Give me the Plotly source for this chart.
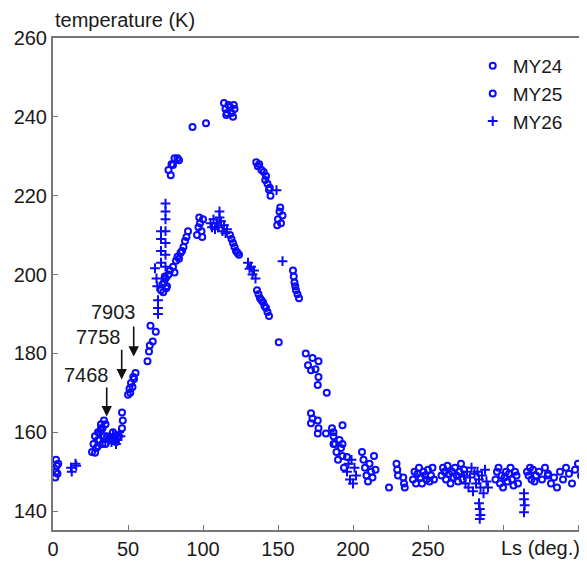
import plotly.graph_objects as go

# ---------------- data ----------------
my24_ls = [1.5, 2, 2.5, 3, 3.5, 2,
           26, 27, 28, 29, 30, 31, 32, 33, 34, 35, 28, 30, 32,
           50, 51, 52, 53, 54, 55, 51.5, 53.5,
           72, 73, 74, 75, 76, 77, 73.5, 75.5, 74.5,
           78, 80, 82, 83, 85, 86, 87, 88, 89, 90, 81, 84,
           96, 97, 98, 99, 100, 97.5, 99.5,
           93, 102,
           118, 119, 120, 121, 122, 123, 124,
           136, 137, 138, 139, 140, 141, 142, 143, 144,
           168.5, 173, 177, 177, 172, 176.5, 170, 175,
           186, 187, 188, 189, 190, 191, 192, 193, 194,
           206, 207, 208, 209, 210, 211, 212, 213, 214, 215,
           240, 241, 242, 243, 244, 245, 246, 247, 248, 249, 250, 251, 252, 253, 254,
           295, 296, 297, 298, 299, 300, 301, 302, 303, 304, 305, 306, 307, 308, 309, 310,
           330, 332, 334, 336, 338, 340, 342, 344, 346, 348, 350, 352, 354, 356]
my24_T = [148.5, 150, 151.5, 149.5, 152, 153,
          155, 157, 159, 156, 160, 158, 161, 157, 159, 162, 154.8, 156.5, 160.5,
          169.5, 171, 172.5, 171.5, 173.5, 175, 170, 174,
          196, 197.5, 198, 199, 197, 200, 195.5, 196.5, 199.5,
          201, 202, 203.5, 204.5, 205.5, 206, 207, 208.5, 209.5, 211, 200.5, 204,
          210, 212, 213, 211, 214, 214.5, 209.5,
          237.4, 238.4,
          210, 209, 208, 207, 206, 205.5, 205,
          196, 195, 194, 193.5, 193, 192, 191.5, 190.5, 189.5,
          180, 178.8, 178, 174, 175.7, 172, 177, 176,
          161, 159, 157, 155, 153, 158, 156, 154, 151,
          155, 153, 151, 149, 147.5, 152, 150, 148.5, 154, 150.5,
          148, 150, 147, 149.5, 151, 148.5, 147, 150, 149, 148, 150.5, 147.5, 149, 151, 148,
          148, 150, 151, 147, 149, 146, 148.5, 150, 147.5, 149.5, 151, 148, 146.5, 150, 149, 147,
          149, 147, 148.5, 146, 150, 148, 151, 149.5, 147, 150.5, 152, 149, 151.5, 153]

my25_ls = [30, 31, 32, 33, 34, 35, 36, 38, 40, 42, 44, 46, 46.5, 46,
           63, 64, 65, 66.5, 68.5, 64.5,
           77, 78.5, 80, 81, 79, 83, 84,
           114, 115, 115.5, 116, 117, 118, 119, 120, 120.5, 121,
           135.5, 136.5, 137.5, 139, 140.5, 141.5, 142, 143, 144, 144.5, 145,
           150, 151, 151.5, 152, 153, 149.5,
           150.5, 182.5, 196, 224,
           160, 160.5, 161, 161.5, 162, 163, 164,
           172, 172, 173, 176.5, 176.5, 177, 182, 187, 187, 193, 193,
           229, 229.5, 230, 233.5, 234, 234.5,
           259, 260, 261, 262, 263, 264, 265, 266, 267, 268, 269, 270, 271, 272, 273, 274,
           316, 317, 318, 319, 320, 321, 322, 324, 326, 328, 330]
my25_T = [158, 160, 162, 161, 163, 157, 159, 158, 160, 157.5, 159, 161, 163, 165,
          178, 180.5, 187, 183, 185.5, 182,
          226.5, 225.2, 227.8, 229.5, 228, 229.5, 229,
          243.5, 242, 240.5, 241, 243, 242.5, 241, 240, 243, 242,
          228.5, 227.5, 228, 226.5, 226, 224, 225, 223, 221.5, 222, 220,
          214, 216, 217, 213, 215, 212.5,
          182.8, 170, 153.7, 146,
          201, 199.5, 198, 197, 196, 195, 194,
          164.8, 162.3, 163.5, 163, 159.7, 161, 159.7, 160, 157, 161.8, 157,
          152, 150.5, 149, 148.5, 147, 146,
          149, 151, 150, 148, 151.5, 149.5, 147, 150, 148.5, 151, 149, 147.5, 150, 152, 148, 150.5,
          150, 149, 151, 148, 150.5, 147.5, 149, 150, 148, 151, 149.5]

my26_ls = [12, 12.5, 15, 15.5,
           37, 38, 39, 40, 41, 42, 43, 44, 45,
           75, 75, 75, 75, 75, 75, 75, 75,
           72, 72, 72, 72,
           68, 69, 70, 70, 70, 69.5,
           105, 106, 107, 108, 109, 110, 111, 111, 112, 113, 114, 115, 116,
           130, 131, 132, 133, 134, 135,
           149, 153,
           196, 197, 198, 199, 200, 201, 202,
           274, 275, 276, 277, 278, 279, 280, 281, 282, 283, 284, 285, 286, 287, 288, 289, 290,
           284, 284.5, 285, 284.5,
           314, 314, 314.5, 314]
my26_T = [151, 150, 152, 151.5,
          158, 159, 157.5, 159.5, 158.5, 157, 158, 160, 159,
          218, 216, 214, 211, 208, 205, 202, 199,
          211, 209, 206, 203,
          201.6, 199, 193.5, 191.5, 190, 197,
          213, 212, 214, 211.5, 213, 212, 216, 214.5, 213.5, 211, 212.5, 210.5, 211.5,
          203, 201.5, 202, 200, 201, 199,
          221.4, 203.4,
          150, 152, 148, 153, 147, 151, 149,
          149, 147, 150, 146, 148.5, 151, 145, 149.5, 147, 150, 148, 146, 149, 144.5, 150.5, 147.5, 146,
          142, 140.5, 139, 138,
          144.5, 143, 141.5, 139.7]

series_names = ["MY24", "MY25", "MY26"]

x_tickvals = [0, 50, 100, 150, 200, 250, 300, 350]
x_ticktext = ["0", "50", "100", "150", "200", "250", "", ""]
y_tickvals = [140, 160, 180, 200, 220, 240, 260]

arrow_labels = ["7468", "7758", "7903"]
arrow_ls = [35.8, 45.8, 53.8]
arrow_tip_T = [164.0, 173.4, 179.2]
arrow_tail_T = [171.7, 181.3, 187.2]
label_ls = [22.5, 30.5, 40.5]
label_T = [174.6, 184.2, 190.6]

BLUE = "#0a0aff"
FONT = "Liberation Sans, Arial, sans-serif"
TXT = "#1a1a1a"

fig = go.Figure()
fig.add_trace(go.Scatter(x=my24_ls, y=my24_T, mode="markers", name=series_names[0],
                         marker=dict(symbol="circle-open", size=6, color=BLUE,
                                     line=dict(width=2, color=BLUE))))
fig.add_trace(go.Scatter(x=my25_ls, y=my25_T, mode="markers", name=series_names[1],
                         marker=dict(symbol="circle-open", size=6, color=BLUE,
                                     line=dict(width=2, color=BLUE))))
fig.add_trace(go.Scatter(x=my26_ls, y=my26_T, mode="markers", name=series_names[2],
                         marker=dict(symbol="cross-thin-open", size=7, color=BLUE,
                                     line=dict(width=2, color=BLUE))))

annotations = []
for lab, xa, yt, ytl, lx, ly in zip(arrow_labels, arrow_ls, arrow_tip_T, arrow_tail_T, label_ls, label_T):
    annotations.append(dict(x=xa, y=yt, ax=xa, ay=ytl, xref="x", yref="y", axref="x", ayref="y",
                            text="", showarrow=True, arrowhead=2, arrowsize=1.3, arrowwidth=1.6,
                            arrowcolor="#111", standoff=0, startstandoff=0))
    annotations.append(dict(x=lx, y=ly, xref="x", yref="y", text=lab, showarrow=False,
                            font=dict(family=FONT, size=20, color=TXT)))
annotations.append(dict(x=325, y=0, xref="x", yref="paper", yanchor="top", yshift=-5,
                        text="Ls (deg.)", showarrow=False,
                        font=dict(family=FONT, size=20, color=TXT)))
annotations.append(dict(x=0, y=1, xref="paper", yref="paper", xanchor="left", yanchor="bottom",
                        xshift=0, yshift=5, text="temperature (K)", showarrow=False,
                        font=dict(family=FONT, size=20, color=TXT)))

# the page adds an 8px body margin, so the figure is 8px smaller than the window
fig.update_layout(
    width=579, height=553,
    margin=dict(l=45, r=0, t=30, b=31),
    paper_bgcolor="white", plot_bgcolor="white",
    showlegend=True,
    legend=dict(x=0.786, y=0.982, xanchor="left", yanchor="top", bgcolor="rgba(0,0,0,0)",
                font=dict(family=FONT, size=19, color=TXT), itemwidth=30,
                tracegroupgap=0),
    annotations=annotations,
)
fig.update_xaxes(range=[0, 356], tickvals=x_tickvals, ticktext=x_ticktext,
                 ticks="inside", ticklen=5, tickwidth=1.2, tickcolor="#777",
                 showline=True, linecolor="#777", linewidth=2, mirror=True,
                 showgrid=False, zeroline=False,
                 tickfont=dict(family=FONT, size=20, color=TXT))
fig.update_yaxes(range=[135.2, 260], tickvals=y_tickvals,
                 ticks="inside", ticklen=5, tickwidth=1.2, tickcolor="#777",
                 showline=True, linecolor="#777", linewidth=2, mirror=False,
                 showgrid=False, zeroline=False,
                 tickfont=dict(family=FONT, size=20, color=TXT))

fig.write_html("out.html")
